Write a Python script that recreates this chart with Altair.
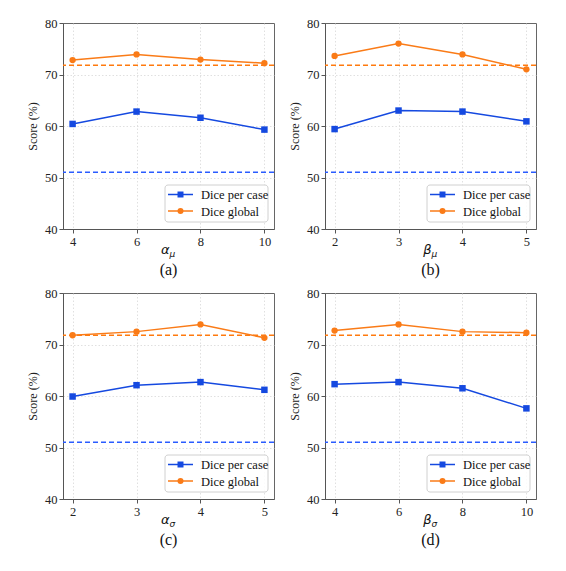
import altair as alt
import pandas as pd

# ---- data ----
x_a = [4, 6, 8, 10]
case_a = [60.4, 62.8, 61.6, 59.3]
glob_a = [72.8, 73.9, 72.9, 72.2]

x_b = [2, 3, 4, 5]
case_b = [59.4, 63.0, 62.8, 60.9]
glob_b = [73.6, 76.0, 73.9, 71.0]

x_c = [2, 3, 4, 5]
case_c = [59.9, 62.1, 62.7, 61.2]
glob_c = [71.8, 72.5, 73.9, 71.3]

x_d = [4, 6, 8, 10]
case_d = [62.3, 62.7, 61.5, 57.6]
glob_d = [72.7, 73.9, 72.5, 72.3]

baseline_case = 51.0
baseline_global = 71.8

series_names = ["Dice per case", "Dice global"]
y_ticks = [40, 50, 60, 70, 80]

BLUE = "#1549e0"
ORANGE = "#fa7b17"
ORANGE_DASH = "#ff7a0e"
BLUE_DASH = "#2a5cff"
SERIF = "Liberation Serif"
MATH = "DejaVu Sans"

W, H = 211, 206


def panel(xs, case, glob, greek, sub, caption):
    lo, hi = min(xs), max(xs)
    pad = (hi - lo) * 0.05
    xdom = [lo - pad, hi + pad]
    df = pd.DataFrame({
        "x": xs * 2,
        "y": case + glob,
        "series": [series_names[0]] * len(xs) + [series_names[1]] * len(xs),
    })
    xsc = alt.Scale(domain=xdom, nice=False, zero=False)
    ysc = alt.Scale(domain=[40, 80], nice=False, zero=False)
    xax = alt.Axis(values=xs, title=None, format="d", grid=True)
    yax = alt.Axis(values=y_ticks, title="Score (%)", grid=True,
                   gridOpacity={"condition": {"test": "datum.value == 40 || datum.value == 80", "value": 0},
                                "value": 1})

    base = alt.Chart(df)
    enc = dict(
        x=alt.X("x:Q", scale=xsc, axis=xax),
        y=alt.Y("y:Q", scale=ysc, axis=yax),
    )
    # baselines
    r1 = alt.Chart(pd.DataFrame({"y": [baseline_global]})).mark_rule(
        strokeDash=[5, 3], strokeWidth=1.5, color=ORANGE_DASH).encode(
        y=alt.Y("y:Q", scale=ysc, axis=yax))
    r2 = alt.Chart(pd.DataFrame({"y": [baseline_case]})).mark_rule(
        strokeDash=[5, 3], strokeWidth=1.5, color=BLUE_DASH).encode(
        y=alt.Y("y:Q", scale=ysc, axis=yax))
    blue = base.transform_filter(alt.datum.series == series_names[0])
    orange = base.transform_filter(alt.datum.series == series_names[1])
    bl_line = blue.mark_line(color=BLUE, strokeWidth=1.5).encode(**enc)
    bl_pt = blue.mark_point(shape="square", filled=True, size=42, color=BLUE, opacity=1).encode(**enc)
    or_line = orange.mark_line(color=ORANGE, strokeWidth=1.5).encode(**enc)
    or_pt = orange.mark_point(shape="circle", filled=True, size=40, color=ORANGE, opacity=1).encode(**enc)

    one = pd.DataFrame({"k": [0]})

    # legend (drawn inside the plot, lower right)
    bx0, bx1, by0, by1 = W - 109, W - 6, H - 44, H - 7
    box = alt.Chart(one).mark_rect(fill="white", fillOpacity=0.85, stroke="#d0d0d0",
                                   strokeWidth=1, cornerRadius=3).encode(
        x=alt.value(bx0), x2=alt.value(bx1), y=alt.value(by0), y2=alt.value(by1))
    leg_df = pd.DataFrame({"name": series_names, "row": [0, 1]})
    ly = [by0 + 9.5, by0 + 26]
    leg = []
    for i, (col, shp, sz) in enumerate([(BLUE, "square", 36), (ORANGE, "circle", 36)]):
        d1 = alt.Chart(leg_df.iloc[[i]])
        leg.append(d1.mark_rule(color=col, strokeWidth=1.5).encode(
            x=alt.value(bx0 + 3), x2=alt.value(bx0 + 28), y=alt.value(ly[i])))
        leg.append(d1.mark_point(shape=shp, filled=True, size=sz, color=col, opacity=1).encode(
            x=alt.value(bx0 + 15.5), y=alt.value(ly[i])))
        leg.append(d1.mark_text(font=SERIF, fontSize=12.5, align="left", baseline="middle",
                                color="#111").encode(
            x=alt.value(bx0 + 36), y=alt.value(ly[i] + 0.5), text="name:N"))

    # x-axis title with subscript, and caption
    tdf = pd.DataFrame({"g": [greek], "s": [sub], "cap": [caption]})
    tg = alt.Chart(tdf).mark_text(font=MATH, fontSize=13, fontStyle="italic", color="#111",
                                  align="right", baseline="middle").encode(
        x=alt.value(W / 2 + 1), y=alt.value(H + 21), text="g:N")
    ts = alt.Chart(tdf).mark_text(font=MATH, fontSize=9, fontStyle="italic", color="#111",
                                  align="left", baseline="middle").encode(
        x=alt.value(W / 2 + 1), y=alt.value(H + 25), text="s:N")
    tc = alt.Chart(tdf).mark_text(font=SERIF, fontSize=16, color="#111",
                                  align="center", baseline="middle").encode(
        x=alt.value(W / 2), y=alt.value(H + 41), text="cap:N")

    return alt.layer(r1, r2, bl_line, or_line, bl_pt, or_pt, box, *leg, tg, ts, tc).properties(
        width=W, height=H)


pa = panel(x_a, case_a, glob_a, "α", "μ", "(a)")
pb = panel(x_b, case_b, glob_b, "β", "μ", "(b)")
pc = panel(x_c, case_c, glob_c, "α", "σ", "(c)")
pd_ = panel(x_d, case_d, glob_d, "β", "σ", "(d)")

chart = alt.vconcat(
    alt.hconcat(pa, pb, spacing=12),
    alt.hconcat(pc, pd_, spacing=12),
    spacing=7,
).properties(
    padding={"left": 18, "top": 8, "right": 5, "bottom": 5},
    background="white",
).configure_view(
    stroke="#666666", strokeWidth=1
).configure_axis(
    labelFont=SERIF, labelFontSize=12.5, labelColor="#222",
    titleFont=SERIF, titleFontSize=12, titleColor="#222", titleFontWeight="normal",
    domainColor="#555", domainWidth=1, tickColor="#555", tickSize=4,
    labelPadding=2, titlePadding=5,
    gridColor="#d8d8d8", gridDash=[1.5, 2], gridWidth=0.8,
)

chart.save("out.html", embed_options={"renderer": "svg", "actions": False})
